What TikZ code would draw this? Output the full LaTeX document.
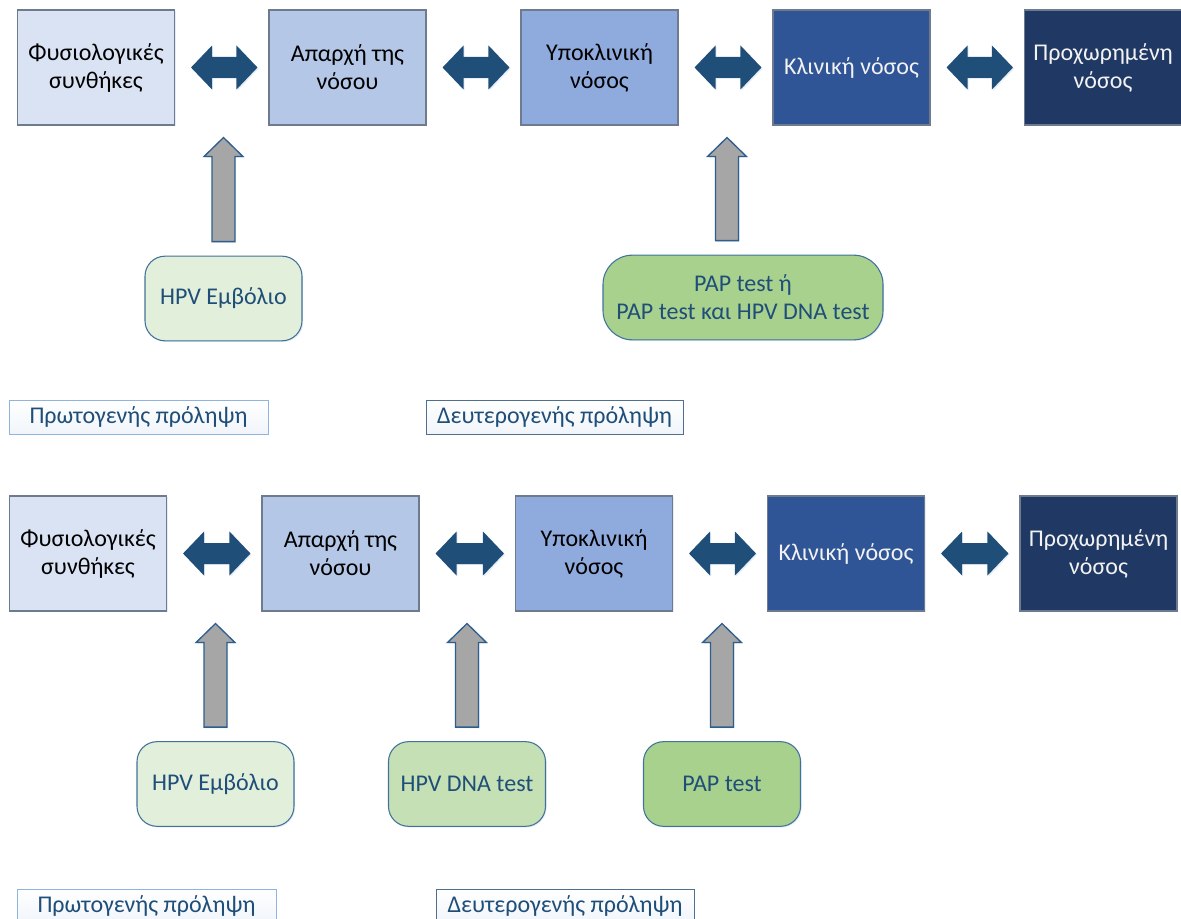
\documentclass[tikz,border=0pt]{standalone}
\usepackage{fontspec}
\setmainfont{Carlito}
\usetikzlibrary{calc,shadows}

\definecolor{stageA}{HTML}{DAE3F3}
\definecolor{stageB}{HTML}{B4C7E7}
\definecolor{stageC}{HTML}{8FAADC}
\definecolor{stageD}{HTML}{2F5597}
\definecolor{stageE}{HTML}{203864}
\definecolor{stageline}{HTML}{6E7B8E}
\definecolor{linkblue}{HTML}{1F4E79}
\definecolor{upgray}{HTML}{A6A6A6}
\definecolor{upline}{HTML}{2E5E8E}
\definecolor{greenA}{HTML}{E2EFDA}
\definecolor{greenB}{HTML}{C5E0B4}
\definecolor{greenC}{HTML}{A9D18E}
\definecolor{greenline}{HTML}{41719C}
\definecolor{labeltext}{HTML}{1F4E79}
\definecolor{labellineA}{HTML}{8FB4DE}
\definecolor{labellineB}{HTML}{4F6F8F}
\definecolor{glow}{HTML}{B7CCE6}

\tikzset{
  txt/.style={font=\fontsize{18}{21}\selectfont, align=center},
  softshadow/.style={drop shadow={shadow xshift=0.9pt, shadow yshift=-0.9pt, opacity=0.35, fill=glow}},
  stage/.style={txt, rectangle, draw=stageline, line width=0.8pt,
    minimum width=117.75pt, minimum height=86.25pt, inner sep=0pt, softshadow},
  darkstage/.style={stage, text=white!95!black},
  measure/.style={txt, rectangle, rounded corners=15pt, draw=greenline, line width=0.8pt,
    text=labeltext, minimum width=117.75pt, minimum height=63.5pt, inner sep=0pt, softshadow},
  phase/.style={txt, rectangle, line width=0.7pt, text=labeltext,
    top color=white, bottom color=white!80!glow, minimum height=25.5pt, inner sep=0pt},
  linkfill/.style={fill=linkblue, softshadow},
  uparrowst/.style={fill=upgray, draw=upline, line width=1pt, line join=miter, softshadow}
}

% two-headed link between neighbouring stages (units: px of the layout grid)
\newcommand\twoway[2]{%
  \fill[linkfill] ($(#1.east)+(16,0)$) -- ++(21,-22) -- ++(0,11.5)
    -- ($(#2.west)+(-32,-10.5)$) -- ++(0,-11.5) -- ++(21,22) -- ++(-21,22)
    -- ++(0,-11.5) -- ($(#1.east)+(37,10.5)$) -- ++(0,11.5) -- cycle;}

% upward arrow from a measure box towards a stage row; #3 = horizontal offset
\newcommand\uparr[3]{%
  \draw[uparrowst] let \p1=($(#1.north)+(#3,0)$), \p2=(#2.south) in
    (\x1-8.6pt,\y1+10.5pt) -- (\x1-8.6pt,\y2-23.25pt) -- (\x1-14.6pt,\y2-23.25pt)
    -- (\x1,\y2-9pt) -- (\x1+14.6pt,\y2-23.25pt) -- (\x1+8.6pt,\y2-23.25pt)
    -- (\x1+8.6pt,\y1+10.5pt) -- cycle;}

\begin{document}
\begin{tikzpicture}[x=0.75pt,y=-0.75pt]
\useasboundingbox (0,0) rectangle (1181,919);
\clip (0,0) rectangle (1181,919);

% ---------- first scheme ----------
\node[stage, fill=stageA] (b1) at (96,67.5)    {Φυσιολογικές\\συνθήκες};
\node[stage, fill=stageB] (b2) at (347.5,67.5) {Απαρχή της\\νόσου};
\node[stage, fill=stageC] (b3) at (599.5,67.5) {Υποκλινική\\νόσος};
\node[darkstage, fill=stageD] (b4) at (851.5,67.5) {Κλινική νόσος};
\node[darkstage, fill=stageE] (b5) at (1103,67.5)  {Προχωρημένη\\νόσος};

\twoway{b1}{b2}
\twoway{b2}{b3}
\twoway{b3}{b4}
\twoway{b4}{b5}

\node[measure, fill=greenA] (g1) at (223.5,298.5) {HPV Εμβόλιο};
\node[measure, fill=greenC, minimum width=210pt, rounded corners=22pt] (g2) at (743,297.5)
  {PAP test ή\\PAP test και HPV DNA test};

\uparr{g1}{b1}{0}
\uparr{g2}{b3}{-16}

\node[phase, draw=labellineA, minimum width=194.25pt] (l1) at (138.5,417) {Πρωτογενής πρόληψη};
\node[phase, draw=labellineB, minimum width=192.75pt] (l2) at (554.5,417) {Δευτερογενής πρόληψη};

% ---------- second scheme ----------
\node[stage, fill=stageA] (c1) at (88,553.5)     {Φυσιολογικές\\συνθήκες};
\node[stage, fill=stageB] (c2) at (340.5,553.5)  {Απαρχή της\\νόσου};
\node[stage, fill=stageC] (c3) at (594,553.5)    {Υποκλινική\\νόσος};
\node[darkstage, fill=stageD] (c4) at (846,553.5)  {Κλινική νόσος};
\node[darkstage, fill=stageE] (c5) at (1098.5,553.5) {Προχωρημένη\\νόσος};

\twoway{c1}{c2}
\twoway{c2}{c3}
\twoway{c3}{c4}
\twoway{c4}{c5}

\node[measure, fill=greenA] (h1) at (215.5,784) {HPV Εμβόλιο};
\node[measure, fill=greenB] (h2) at (467,784)   {HPV DNA test};
\node[measure, fill=greenC] (h3) at (722,784)   {PAP test};

\uparr{h1}{c1}{0}
\uparr{h2}{c2}{0}
\uparr{h3}{c3}{0}

\node[phase, draw=labellineA, minimum width=194.25pt] (m1) at (146.5,906) {Πρωτογενής πρόληψη};
\node[phase, draw=labellineB, minimum width=193.5pt] (m2) at (565,906) {Δευτερογενής πρόληψη};
\end{tikzpicture}
\end{document}
